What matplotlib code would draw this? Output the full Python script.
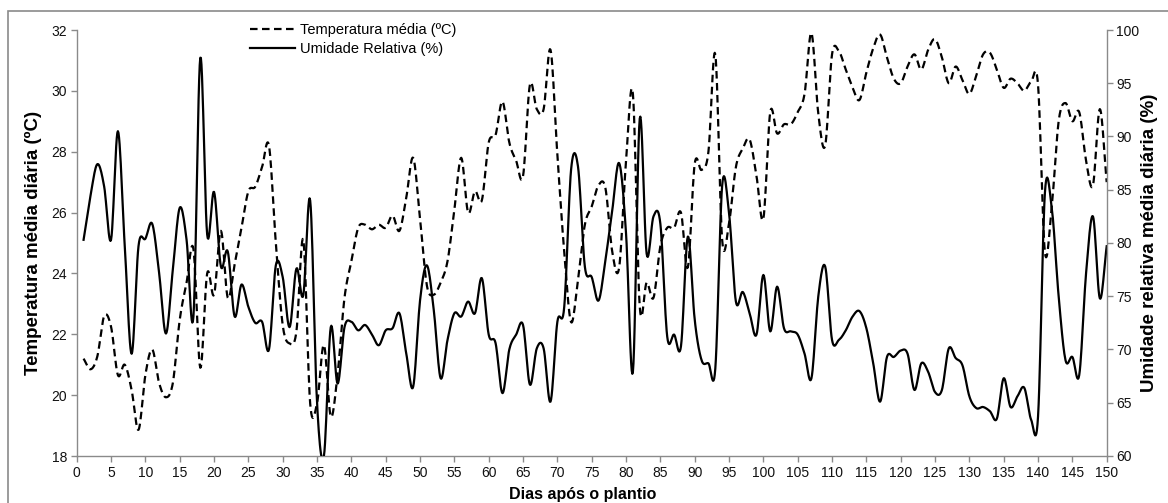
import numpy as np
import matplotlib
matplotlib.use("Agg")
import matplotlib.pyplot as plt
from matplotlib.patches import Rectangle

plt.rcParams['font.family'] = ['Liberation Sans', 'DejaVu Sans']

days = list(range(1, 151))

temperatura = [
    21.2, 20.85, 21.27, 22.6, 22.25, 20.66, 21.0, 20.17, 18.86, 20.66,
    21.5, 20.4, 19.93, 20.4, 22.47, 23.7, 24.8, 20.9, 24.0, 23.3,
    25.4, 23.2, 24.3, 25.5, 26.7, 26.85, 27.5, 28.2, 25.0, 22.3,
    21.7, 22.1, 25.1, 19.73, 19.73, 21.65, 19.3, 20.7, 23.2, 24.4,
    25.5, 25.6, 25.45, 25.6, 25.5, 25.9, 25.4, 26.5, 27.8, 25.8,
    23.6, 23.3, 23.7, 24.4, 26.1, 27.8, 26.0, 26.7, 26.4, 28.3,
    28.55, 29.65, 28.3, 27.7, 27.2, 30.2, 29.4, 29.4, 31.35, 27.9,
    24.7, 22.4, 23.8, 25.6, 26.2, 26.9, 26.8, 24.7, 24.2, 27.7,
    29.9, 22.9, 23.7, 23.2, 24.9, 25.5, 25.5, 26.0, 24.2, 27.6,
    27.4, 28.0, 31.2, 25.1, 25.65, 27.5, 28.1, 28.4, 27.2, 25.8,
    29.3, 28.6, 28.9, 28.9, 29.3, 29.9, 31.9, 29.25, 28.2, 31.2,
    31.3, 30.7, 30.1, 29.7, 30.6, 31.4, 31.85, 31.1, 30.4, 30.25,
    30.8, 31.2, 30.7, 31.35, 31.7, 31.1, 30.25, 30.8, 30.35, 29.9,
    30.5, 31.2, 31.25, 30.7, 30.1, 30.4, 30.25, 30.0, 30.3, 30.2,
    24.7, 26.2, 29.0, 29.6, 29.0, 29.3, 27.7, 26.9, 29.4, 27.0,
]

umidade = [
    80.3, 84.4, 87.4, 85.3, 80.3, 90.5, 79.7, 69.6, 79.7, 80.4,
    81.8, 77.2, 71.5, 77.5, 83.3, 80.3, 73.1, 97.4, 80.8, 84.8,
    77.8, 79.2, 73.1, 76.1, 74.0, 72.5, 72.6, 70.0, 77.9, 76.8,
    72.1, 77.6, 75.1, 84.0, 65.0, 60.0, 72.1, 66.8, 72.1, 72.6,
    71.8, 72.3, 71.4, 70.4, 71.8, 72.0, 73.4, 69.6, 66.5, 74.6,
    77.9, 73.7, 67.3, 70.9, 73.4, 73.1, 74.5, 73.4, 76.7, 71.4,
    70.6, 65.9, 70.0, 71.4, 72.3, 66.7, 70.1, 70.1, 65.1, 72.6,
    74.0, 86.9, 87.2, 77.8, 76.8, 74.6, 78.4, 83.1, 87.5, 80.9,
    67.9, 91.7, 79.0, 82.5, 81.8, 71.2, 71.4, 70.3, 80.6, 72.8,
    69.0, 68.7, 68.2, 85.4, 82.8, 74.5, 75.4, 73.4, 71.4, 77.0,
    71.7, 75.9, 72.0, 71.7, 71.4, 69.6, 67.3, 75.0, 77.8, 70.9,
    70.9, 71.8, 73.1, 73.6, 72.0, 68.7, 65.1, 69.3, 69.3, 69.9,
    69.6, 66.2, 68.7, 67.9, 66.0, 66.2, 70.1, 69.2, 68.5, 65.6,
    64.5, 64.6, 64.2, 63.5, 67.3, 64.6, 65.6, 66.4, 63.4, 63.7,
    84.7, 83.3, 75.0, 69.0, 69.3, 67.6, 77.2, 82.5, 74.8, 79.7,
]

x_ticks = list(range(0, 151, 5))
left_ticks = list(range(18, 33, 2))
right_ticks = list(range(60, 101, 5))


def smooth(x, y, n=12):
    """Catmull-Rom curve through the data points (Excel-like smoothed line)."""
    x = np.asarray(x, float)
    y = np.asarray(y, float)
    xp = np.concatenate([[2 * x[0] - x[1]], x, [2 * x[-1] - x[-2]]])
    yp = np.concatenate([[2 * y[0] - y[1]], y, [2 * y[-1] - y[-2]]])
    xs, ys = [], []
    t = np.linspace(0, 1, n, endpoint=False)
    for i in range(1, len(xp) - 2):
        p0, p1, p2, p3 = (np.array([xp[j], yp[j]]) for j in range(i - 1, i + 3))
        c1 = p1 + (p2 - p0) / 6.0
        c2 = p2 - (p3 - p1) / 6.0
        b = ((1 - t) ** 3)[:, None] * p1 + (3 * (1 - t) ** 2 * t)[:, None] * c1 \
            + (3 * (1 - t) * t ** 2)[:, None] * c2 + (t ** 3)[:, None] * p2
        xs.append(b[:, 0])
        ys.append(b[:, 1])
    xs.append([x[-1]])
    ys.append([y[-1]])
    return np.concatenate(xs), np.concatenate(ys)


fig = plt.figure(figsize=(11.68, 5.03), dpi=100)
W, H = 1168, 503
ax = fig.add_axes([76.7 / W, 1 - 456 / H, (1106.7 - 76.7) / W, (456 - 30) / H])
ax2 = ax.twinx()

spine_c = '#8a8a8a'

tx, ty = smooth(days, temperatura)
hx, hy = smooth(days, umidade)
l1, = ax.plot(tx, ty, color='black', lw=1.6, ls=(0, (3.4, 2.0)),
              label='Temperatura média (ºC)')
l2, = ax2.plot(hx, hy, color='black', lw=1.6, label='Umidade Relativa (%)')

ax.set_xlim(0, 150)
ax.set_ylim(18, 32)
ax2.set_ylim(60, 100)
ax.set_xticks(x_ticks)
ax.set_yticks(left_ticks)
ax2.set_yticks(right_ticks)

for a in (ax, ax2):
    a.spines['top'].set_visible(False)
    for s in ('left', 'right', 'bottom'):
        a.spines[s].set_color(spine_c)
        a.spines[s].set_linewidth(1.0)
    a.tick_params(axis='both', direction='out', length=4, width=1.0,
                  color=spine_c, labelsize=10, labelcolor='#111111', pad=3)
ax.spines['right'].set_visible(False)
ax2.spines['left'].set_visible(False)
ax2.spines['bottom'].set_visible(False)

fig.text(33 / W, 1 - 243 / H, 'Temperatura média diária (ºC)', rotation=90,
         ha='center', va='center', fontsize=13.5, fontweight='bold')
fig.text(1150 / W, 1 - 243 / H, 'Umidade relativa média diária (%)', rotation=90,
         ha='center', va='center', fontsize=13.5, fontweight='bold')
fig.text(583 / W, 1 - 494 / H, 'Dias após o plantio', ha='center', va='center',
         fontsize=11.5, fontweight='bold')

fig.legend(handles=[l1, l2], loc='upper left',
           bbox_to_anchor=(250 / W, 1 - 23 / H), frameon=False, fontsize=10.5,
           handlelength=3.1, handletextpad=0.3, labelspacing=0.35,
           borderpad=0, borderaxespad=0)

fig.patches.append(Rectangle((8 / W, -0.05), 1.2, (1 - 11 / H) + 0.05,
                             transform=fig.transFigure, fill=False,
                             edgecolor='#8a8a8a', lw=1.2))

fig.savefig('out.png', dpi=100)
